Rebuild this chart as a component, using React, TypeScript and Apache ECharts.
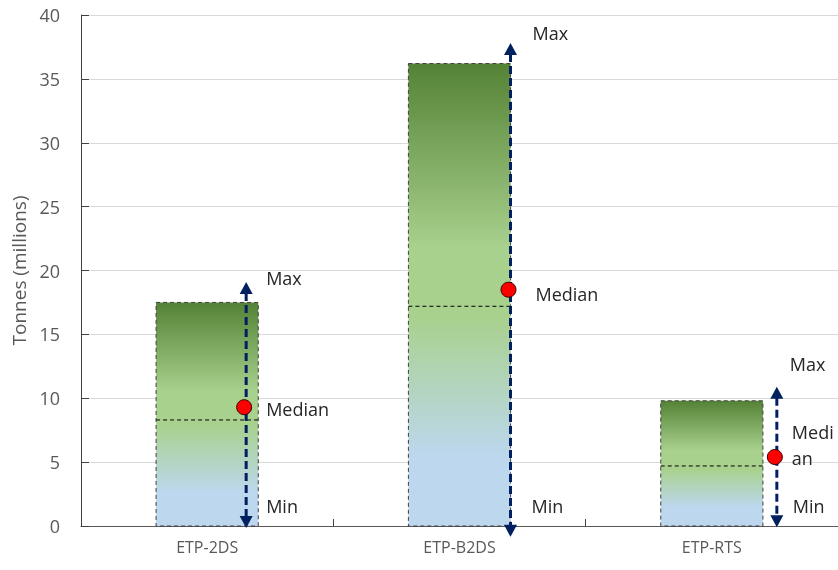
import React, { useEffect, useRef } from "react";
import * as echarts from "echarts";

// Scenario ranges (million tonnes)
const categories = ["ETP-2DS", "ETP-B2DS", "ETP-RTS"];
const boxTop = [17.5, 36.2, 9.8];
const boxSplit = [8.3, 17.2, 4.7];
const medianValues = [9.3, 18.5, 5.4];
const arrowTop = [19.1, 37.8, 10.9];
const arrowBottom = [-0.15, -0.85, -0.1];
const yTicks = [0, 5, 10, 15, 20, 25, 30, 35, 40];

// Horizontal shift (px) of each range arrow from its category centre,
// and per-label pixel nudges for the Max / Median / Min annotations.
const arrowShift = [39, 51, 65];
const labelNudge = [
  { max: [20, -4], med: [20, 2], min: [20, -20] },
  { max: [22, -10], med: [25, 4], min: [21, -20] },
  { max: [13, -23], med: [15, -12], min: [16, -20] },
];

const FONT = "'Open Sans', 'Liberation Sans', sans-serif";
const NAVY = "#002060";

export default function App() {
  const ref = useRef<HTMLDivElement>(null);

  useEffect(() => {
    if (!ref.current) return;
    const chart = echarts.init(ref.current, undefined, { renderer: "svg" });

    const boxData = categories.map((_, i) => [i, boxTop[i], boxSplit[i]]);
    const arrowData = categories.map((_, i) => [
      i,
      arrowTop[i],
      arrowBottom[i],
      medianValues[i],
    ]);

    const renderBox = (params: any, api: any) => {
      const i = api.value(0);
      const base = api.coord([i, 0]);
      const top = api.coord([i, api.value(1)]);
      const split = api.coord([i, api.value(2)]);
      const bw = api.size([1, 0])[0] * 0.405;
      const x0 = base[0] - bw / 2;
      return {
        type: "group",
        children: [
          {
            type: "rect",
            shape: { x: x0, y: top[1], width: bw, height: base[1] - top[1] },
            style: {
              fill: new echarts.graphic.LinearGradient(0, 0, 0, 1, [
                { offset: 0, color: "#548235" },
                { offset: 0.4, color: "#a9d18e" },
                { offset: 0.55, color: "#a9d18e" },
                { offset: 0.85, color: "#bdd7ee" },
                { offset: 1, color: "#bdd7ee" },
              ]),
              stroke: "#404040",
              lineWidth: 1,
              lineDash: [4, 3],
            },
          },
          {
            type: "line",
            shape: { x1: x0, y1: split[1], x2: x0 + bw, y2: split[1] },
            style: { stroke: "#000000", lineWidth: 1, lineDash: [4, 3] },
          },
        ],
      };
    };

    const labelStyle = (text: string, extra: any = {}) => ({
      text,
      fill: "#262626",
      fontSize: 18,
      fontFamily: FONT,
      align: "left",
      verticalAlign: "middle",
      ...extra,
    });

    const renderArrow = (params: any, api: any) => {
      const i = api.value(0);
      const center = api.coord([i, 0]);
      const x = center[0] + arrowShift[i];
      const yTop = api.coord([i, api.value(1)])[1];
      const yBot = api.coord([i, api.value(2)])[1];
      const yMed = api.coord([i, api.value(3)])[1];
      const yZero = center[1];
      const head = 12;
      const hw = 6.5;
      const n = labelNudge[i];
      return {
        type: "group",
        children: [
          {
            type: "line",
            shape: { x1: x, y1: yTop + head - 1, x2: x, y2: yBot - head + 1 },
            style: { stroke: NAVY, lineWidth: 3, lineDash: [8, 4] },
          },
          {
            type: "polygon",
            shape: {
              points: [
                [x, yTop],
                [x - hw, yTop + head],
                [x + hw, yTop + head],
              ],
            },
            style: { fill: NAVY },
          },
          {
            type: "polygon",
            shape: {
              points: [
                [x, yBot],
                [x - hw, yBot - head],
                [x + hw, yBot - head],
              ],
            },
            style: { fill: NAVY },
          },
          {
            type: "circle",
            shape: { cx: x - 2, cy: yMed, r: 7.5 },
            style: { fill: "#ff0000", stroke: "#3a0000", lineWidth: 1 },
          },
          {
            type: "text",
            x: x + n.max[0],
            y: yTop + n.max[1],
            style: labelStyle("Max"),
          },
          {
            type: "text",
            x: x + n.med[0],
            y: yMed + n.med[1],
            style:
              i === 2
                ? labelStyle("Median", {
                    width: 44,
                    overflow: "breakAll",
                    lineHeight: 26,
                  })
                : labelStyle("Median"),
          },
          {
            type: "text",
            x: x + n.min[0],
            y: yZero + n.min[1],
            style: labelStyle("Min"),
          },
        ],
      };
    };

    chart.setOption({
      animation: false,
      grid: { left: 81, right: 0, top: 15, bottom: 44 },
      xAxis: {
        type: "category",
        data: categories,
        boundaryGap: true,
        axisLine: { lineStyle: { color: "#595959", width: 1 } },
        axisTick: {
          show: true,
          inside: true,
          length: 7,
          alignWithLabel: false,
          lineStyle: { color: "#404040" },
        },
        axisLabel: {
          color: "#595959",
          fontSize: 16,
          fontFamily: FONT,
          margin: 13,
        },
        splitLine: { show: false },
      },
      yAxis: {
        type: "value",
        min: yTicks[0],
        max: yTicks[yTicks.length - 1],
        interval: yTicks[1] - yTicks[0],
        name: "Tonnes (millions)",
        nameLocation: "middle",
        nameGap: 49,
        nameTextStyle: { color: "#595959", fontSize: 19, fontFamily: FONT },
        axisLine: { show: true, lineStyle: { color: "#404040", width: 1 } },
        axisTick: {
          show: true,
          inside: true,
          length: 8,
          lineStyle: { color: "#404040" },
        },
        axisLabel: {
          color: "#595959",
          fontSize: 18,
          fontFamily: FONT,
          margin: 21,
        },
        splitLine: { lineStyle: { color: "#d9d9d9", width: 1 } },
      },
      series: [
        {
          type: "custom",
          name: "range",
          renderItem: renderBox,
          data: boxData,
          encode: { x: 0, y: [1, 2] },
          z: 2,
        },
        {
          type: "custom",
          name: "spread",
          renderItem: renderArrow,
          data: arrowData,
          encode: { x: 0, y: [1, 2, 3] },
          z: 3,
        },
      ],
    });

    return () => chart.dispose();
  }, []);

  return (
    <div
      ref={ref}
      style={{ position: "fixed", left: 0, top: 0, width: 838, height: 570 }}
    />
  );
}
